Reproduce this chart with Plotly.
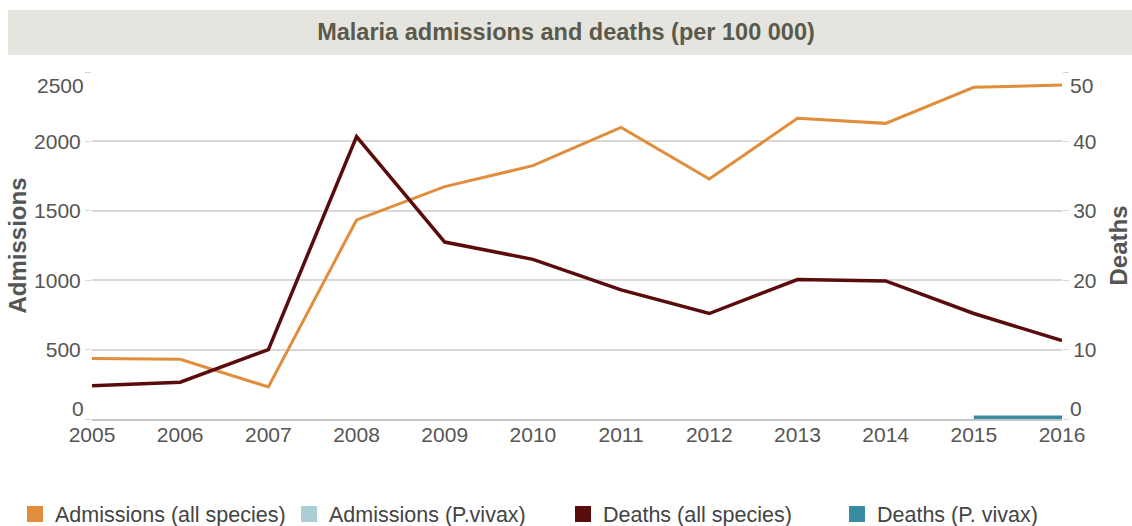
import plotly.graph_objects as go

# ---------------- data ----------------
years = [2005, 2006, 2007, 2008, 2009, 2010, 2011, 2012, 2013, 2014, 2015, 2016]
admissions_all = [436, 430, 231, 1434, 1674, 1825, 2101, 1729, 2166, 2130, 2390, 2406]
admissions_vivax = [None, None, None, None, None, None, None, None, None, None, None, None]
deaths_all = [4.8, 5.3, 10.0, 40.7, 25.5, 23.0, 18.6, 15.2, 20.1, 19.9, 15.2, 11.3]
deaths_vivax = [None, None, None, None, None, None, None, None, None, None, 0, 0]

series_names = ["Admissions (all species)", "Admissions (P.vivax)",
                "Deaths (all species)", "Deaths (P. vivax)"]
left_ticks = [0, 500, 1000, 1500, 2000, 2500]
left_labels = ["0", "500", "1000", "1500", "2000", "2500"]
right_ticks = [0, 10, 20, 30, 40, 50]
right_labels = ["0", "10", "20", "30", "40", "50"]

title_text = "Malaria admissions and deaths (per 100 000)"

# ---------------- style ----------------
W, H = 1132, 526
ML, MR, MT, MB = 92, 70, 72, 107
PW, PH = W - ML - MR, H - MT - MB

C_ADM = "#e08e3c"
C_ADM_V = "#a9ced4"
C_DEATH = "#5a0c0c"
C_DEATH_V = "#3a8ca3"
TXT = "#555555"
GRID = "#d8d8d8"
FONT = "Liberation Sans, Arial, sans-serif"
TICK_SIZE = 21

fig = go.Figure()

fig.add_trace(go.Scatter(x=years, y=admissions_all, mode="lines", yaxis="y",
                         line=dict(color=C_ADM, width=3), showlegend=False,
                         name=series_names[0]))
fig.add_trace(go.Scatter(x=years, y=admissions_vivax, mode="lines", yaxis="y",
                         line=dict(color=C_ADM_V, width=3), showlegend=False,
                         name=series_names[1]))
fig.add_trace(go.Scatter(x=years, y=deaths_all, mode="lines", yaxis="y2",
                         line=dict(color=C_DEATH, width=3.5), showlegend=False,
                         name=series_names[2]))
fig.add_trace(go.Scatter(x=years, y=deaths_vivax, mode="lines", yaxis="y2",
                         line=dict(color=C_DEATH_V, width=7), showlegend=False,
                         cliponaxis=False, name=series_names[3]))

# legend-only square swatches (two legends so the four entries stay on one row)
legend_ids = ["legend", "legend", "legend2", "legend2"]
for name, col, lg in zip(series_names, [C_ADM, C_ADM_V, C_DEATH, C_DEATH_V], legend_ids):
    fig.add_trace(go.Scatter(x=[None], y=[None], mode="markers", name=name,
                             marker=dict(symbol="square", size=16, color=col),
                             showlegend=True, legend=lg))

def px_x(px):
    return (px - ML) / PW

def px_y(py):
    return (H - MB - py) / PH

# title band
fig.add_shape(type="rect", xref="paper", yref="paper",
              x0=px_x(8), x1=px_x(1132), y0=px_y(55), y1=px_y(10),
              fillcolor="#e6e4df", line=dict(width=0), layer="below")

# end tick labels sit inside the plot height, as in the reference
tick_font = dict(family=FONT, size=TICK_SIZE, color=TXT)
for val, lab, shift in [(left_ticks[0], left_labels[0], 11), (left_ticks[-1], left_labels[-1], -13)]:
    fig.add_annotation(xref="paper", x=0, xanchor="right", xshift=-6,
                       yref="y", y=val, yanchor="middle", yshift=shift,
                       text=lab, showarrow=False, font=tick_font)
for val, lab, shift in [(right_ticks[0], right_labels[0], 11), (right_ticks[-1], right_labels[-1], -13)]:
    fig.add_annotation(xref="paper", x=1, xanchor="left", xshift=6,
                       yref="y2", y=val, yanchor="middle", yshift=shift,
                       text=lab, showarrow=False, font=tick_font)

legend_common = dict(orientation="h", xanchor="left", yanchor="middle",
                     y=px_y(514), entrywidth=229,
                     font=dict(family=FONT, size=21.5, color="#444444"),
                     bgcolor="rgba(0,0,0,0)", itemclick=False, itemdoubleclick=False)

fig.update_layout(
    width=W, height=H,
    margin=dict(l=ML, r=MR, t=MT, b=MB, autoexpand=False),
    paper_bgcolor="white", plot_bgcolor="white",
    font=dict(family=FONT, color=TXT, size=TICK_SIZE),
    title=dict(text=title_text, x=0.5, xref="container", xanchor="center",
               y=1 - 32 / H, yref="container", yanchor="middle",
               font=dict(family=FONT, size=23.5, color="#5a5a4c", weight="bold")),
    xaxis=dict(range=[2005, 2016], tickmode="array", tickvals=years,
               showgrid=False, zeroline=False, showline=True,
               linecolor="#c4c4c4", linewidth=2, ticks="", layer="below traces",
               ticklabelstandoff=-4, tickfont=tick_font),
    yaxis=dict(range=[0, 2500], tickmode="array", tickvals=left_ticks,
               ticktext=[""] + left_labels[1:-1] + [""],
               showgrid=True, gridcolor=GRID, gridwidth=1.5, zeroline=False,
               ticks="outside", ticklen=6, tickcolor=GRID, tickfont=tick_font,
               title=dict(text="Admissions", standoff=0,
                          font=dict(size=24, color=TXT, weight="bold", family=FONT))),
    yaxis2=dict(range=[0, 50], tickmode="array", tickvals=right_ticks,
                ticktext=[""] + right_labels[1:-1] + [""],
                overlaying="y", side="right", showgrid=False, zeroline=False,
                ticks="outside", ticklen=6, tickcolor=GRID, tickfont=tick_font,
                title=dict(text="Deaths", standoff=18,
                           font=dict(size=24, color=TXT, weight="bold", family=FONT))),
    legend=dict(x=px_x(15), **legend_common),
    legend2=dict(x=px_x(15 + 2 * 274), **legend_common),
)

fig.write_html("out.html")
